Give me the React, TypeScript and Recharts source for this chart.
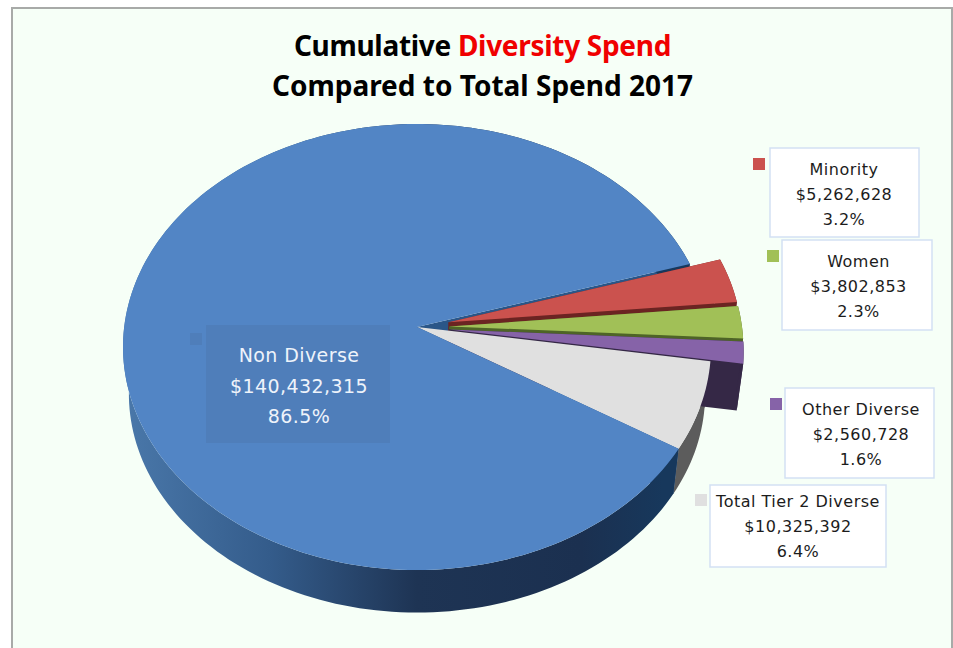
import React from "react";
import { PieChart, Pie } from "recharts";

// Spend by supplier category, 2017 (USD)
const categories = ["Minority", "Women", "Other Diverse", "Total Tier 2 Diverse", "Non Diverse"];
const spend = [5262628, 3802853, 2560728, 10325392, 140432315];

const topColors = ["#cb524e", "#a1c057", "#8663a8", "#e0e0e0", "#5285c5"];
const wallColors = ["#6b2422", "#4e6427", "#352846", "#5c5c5c", "url(#blueWall)"];

const pieData = categories.map((name, i) => ({ name, value: spend[i] }));

// Disc-to-screen projection of the tilted pie
const SQUASH = 223 / 294;
const TILT = -0.09;
const DEPTH = 47;
const NARROW = 0.02;
const EXPLODE = 0.11;
const pulledOut = new Set(["Minority", "Women", "Other Diverse"]);

type Pt = [number, number];

function project(cx: number, cy: number, r: number, u: number, v: number): Pt {
  const w = 1 + TILT * v;
  const px = (u * Math.sqrt(1 - TILT * TILT)) / w;
  const py = (v + TILT) / w;
  return [cx + r * px, cy + r * SQUASH * py];
}

function sliceGeometry(p: any) {
  const { cx, cy, outerRadius: r, startAngle, endAngle, name } = p;
  const rad = Math.PI / 180;
  const mid = ((startAngle + endAngle) / 2) * rad;
  const e = pulledOut.has(name) ? EXPLODE : 0;
  const ox = e * Math.cos(mid);
  const oy = -e * Math.sin(mid);
  const steps = Math.max(8, Math.ceil(Math.abs(endAngle - startAngle) / 1.5));
  const arc: Pt[] = [];
  for (let i = 0; i <= steps; i++) {
    const a = (startAngle + ((endAngle - startAngle) * i) / steps) * rad;
    arc.push(project(cx, cy, r, ox + Math.cos(a), oy - Math.sin(a)));
  }
  const apex = project(cx, cy, r, ox, oy);
  // The underside sits a little smaller because it is farther from the viewer
  const drop = (pts: Pt[]): Pt[] =>
    pts.map(([x, y]) => [cx + (x - cx) * (1 - NARROW), cy + (y - cy) * (1 - NARROW) + DEPTH] as Pt);
  return { apex, arc, drop };
}

const toPath = (pts: Pt[]) =>
  "M" + pts.map(([x, y]) => `${x.toFixed(2)},${y.toFixed(2)}`).join("L") + "Z";

function Walls({ p }: { p: any }) {
  const { apex, arc, drop } = sliceGeometry(p);
  const fill = wallColors[categories.indexOf(p.name)];
  const first = arc[0];
  const last = arc[arc.length - 1];
  const radialFill = p.name === "Non Diverse" ? "#2a5688" : fill;
  return (
    <g>
      <path d={toPath([apex, first, ...drop([first, apex])])} fill={radialFill} />
      <path d={toPath([apex, last, ...drop([last, apex])])} fill={radialFill} />
      <path d={toPath([...arc, ...drop(arc).reverse()])} fill={fill} />
    </g>
  );
}

// Back layer: walls of the slices that stay in place
const backWalls = (p: any) => (pulledOut.has(p.name) ? <g /> : <Walls p={p} />);
// Middle layer: walls of the slices pulled out of the pie
const frontWalls = (p: any) => (pulledOut.has(p.name) ? <Walls p={p} /> : <g />);
// Top layer: the flat faces
const topFace = (p: any) => {
  const { apex, arc } = sliceGeometry(p);
  return <path d={toPath([apex, ...arc])} fill={topColors[categories.indexOf(p.name)]} />;
};

const boxes: Record<string, { x: number; y: number; w: number; h: number; kx: number; ky: number; tx: number; ty: number; fs: number; lh: number; ls: number }> = {
  Minority: { x: 770, y: 148, w: 149, h: 89, kx: 753, ky: 158, tx: 844, ty: 175, fs: 16, lh: 25, ls: 0.5 },
  Women: { x: 782, y: 240, w: 150, h: 90, kx: 767, ky: 250, tx: 858.5, ty: 267, fs: 16, lh: 25, ls: 0.5 },
  "Other Diverse": { x: 785, y: 388, w: 149, h: 90, kx: 770, ky: 398, tx: 861, ty: 415, fs: 16, lh: 25, ls: 0.5 },
  "Total Tier 2 Diverse": { x: 710, y: 485, w: 176, h: 82, kx: 695, ky: 494, tx: 798, ty: 507, fs: 16, lh: 25, ls: 0.5 },
  "Non Diverse": { x: 206, y: 325, w: 184, h: 118, kx: 190, ky: 333, tx: 299, ty: 362, fs: 19, lh: 30.5, ls: 0.4 },
};

const FONT = "'DejaVu Sans', sans-serif";
const MAIN_BOX = "#4f7eba";

function renderLabel(p: any) {
  const { name, value, percent } = p;
  const b = boxes[name];
  const isMain = name === "Non Diverse";
  const color = isMain ? "#eef3fa" : "#1c1c1c";
  return (
    <g key={name}>
      <rect
        x={b.x}
        y={b.y}
        width={b.w}
        height={b.h}
        fill={isMain ? MAIN_BOX : "#ffffff"}
        stroke={isMain ? "none" : "#d3e1f4"}
        strokeWidth={1.5}
      />
      <rect x={b.kx} y={b.ky} width={12} height={12} fill={isMain ? MAIN_BOX : topColors[categories.indexOf(name)]} />
      <text x={b.tx} y={b.ty} textAnchor="middle" fontFamily={FONT} fontSize={b.fs} letterSpacing={b.ls} fill={color}>
        <tspan x={b.tx}>{name}</tspan>
        <tspan x={b.tx} dy={b.lh}>{"$" + Number(value).toLocaleString("en-US")}</tspan>
        <tspan x={b.tx} dy={b.lh}>{(percent * 100).toFixed(1) + "%"}</tspan>
      </text>
    </g>
  );
}

const pieBase = {
  data: pieData,
  dataKey: "value",
  nameKey: "name",
  cx: 417,
  cy: 347,
  innerRadius: 0,
  outerRadius: 294,
  startAngle: 17,
  endAngle: -343,
  stroke: "none",
  isAnimationActive: false,
};

const titleLine: React.CSSProperties = {
  position: "absolute",
  left: 0,
  width: 965,
  textAlign: "center",
  fontFamily: "'Noto Sans', sans-serif",
  fontWeight: 700,
  fontSize: 28,
  lineHeight: "32px",
  color: "#000",
};

export default function App() {
  return (
    <div style={{ position: "absolute", left: 0, top: 0, width: 953, height: 648, background: "#fff", overflow: "hidden" }}>
      <div style={{ position: "absolute", left: 11, top: 7, width: 938, height: 660, background: "#f6fff7", border: "2px solid #a8aaa8" }} />
      <PieChart width={953} height={648} margin={{ top: 0, right: 0, bottom: 0, left: 0 }} style={{ position: "absolute", left: 0, top: 0 }}>
        <defs>
          <linearGradient id="blueWall" gradientUnits="userSpaceOnUse" x1={123} y1={0} x2={710} y2={0}>
            <stop offset="0" stopColor="#4a78aa" />
            <stop offset="0.25" stopColor="#345c8b" />
            <stop offset="0.5" stopColor="#1e3454" />
            <stop offset="0.78" stopColor="#1b3050" />
            <stop offset="0.92" stopColor="#17385c" />
            <stop offset="1" stopColor="#17385c" />
          </linearGradient>
        </defs>
        <Pie {...pieBase} shape={backWalls} />
        <Pie {...pieBase} shape={frontWalls} />
        <Pie {...pieBase} shape={topFace} label={renderLabel} labelLine={false} />
      </PieChart>
      <div style={{ ...titleLine, top: 29, letterSpacing: -0.3 }}>
        Cumulative <span style={{ color: "#f00000" }}>Diversity Spend</span>
      </div>
      <div style={{ ...titleLine, top: 69 }}>Compared to Total Spend 2017</div>
    </div>
  );
}
